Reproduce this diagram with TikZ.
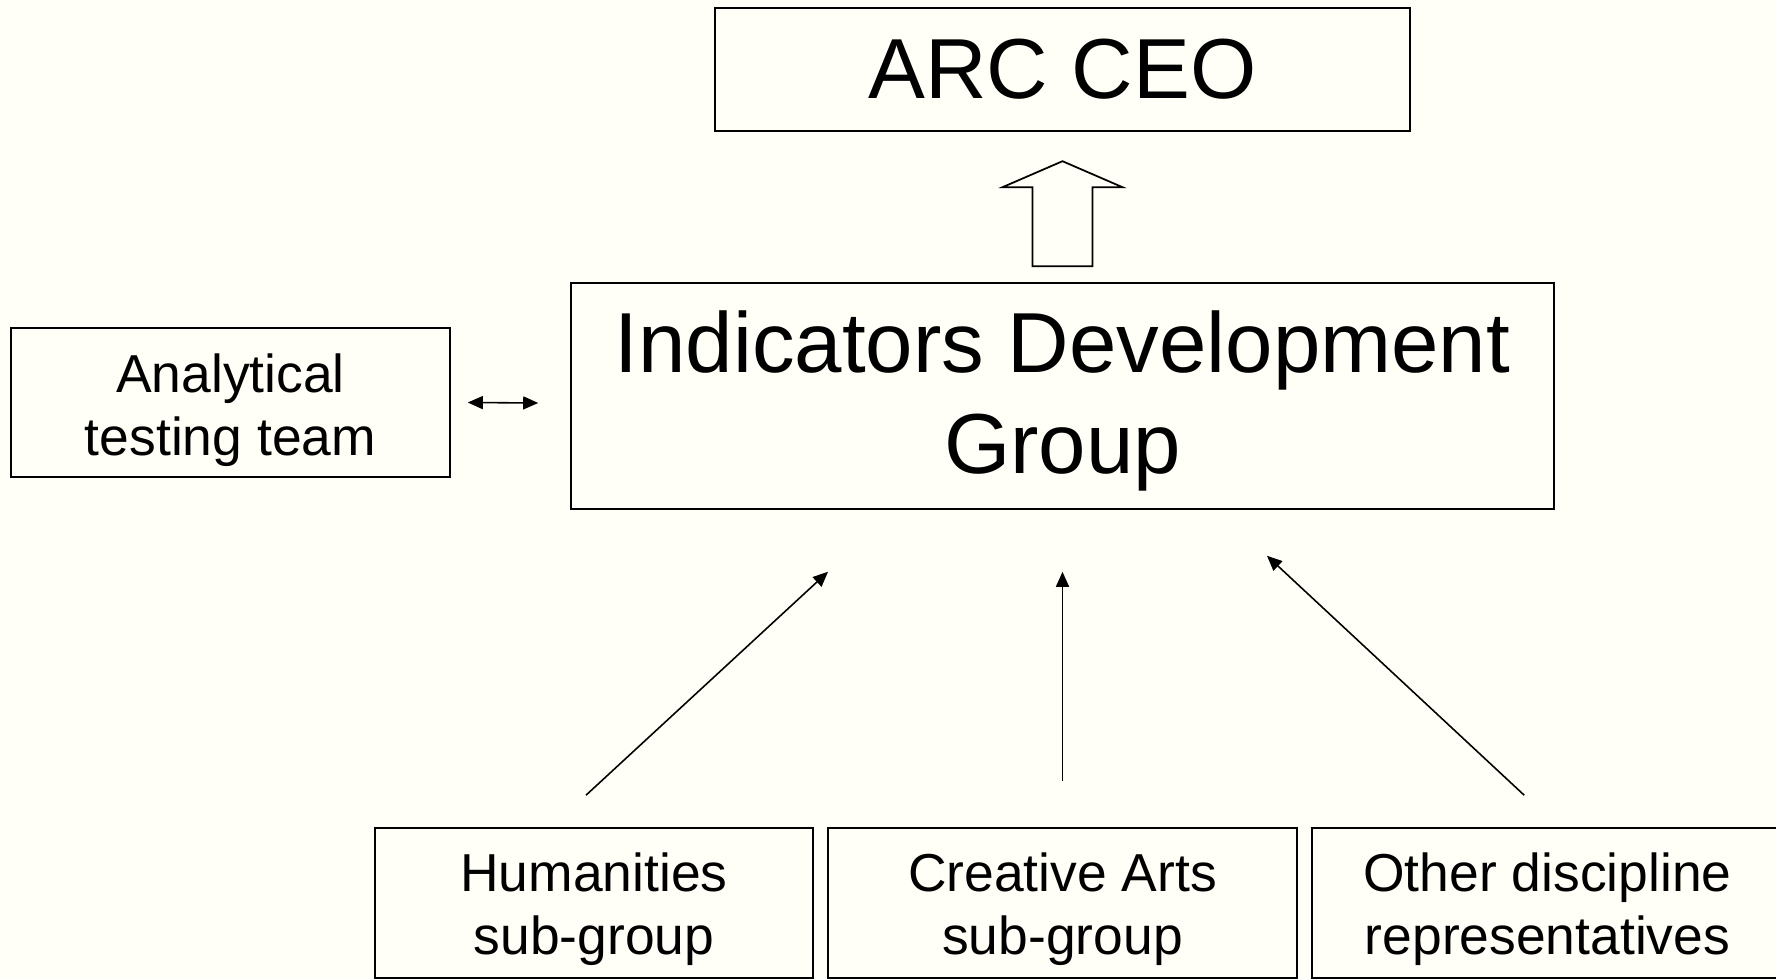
\documentclass[tikz,border=0pt]{standalone}
\usepackage{fontspec}
\setmainfont{Liberation Sans}
\usetikzlibrary{arrows.meta}

\definecolor{paper}{RGB}{255,255,247}

\tikzset{
    box/.style={draw, line width=0.9pt, inner sep=0pt},
    big/.style={align=center, inner sep=0pt, font=\fontsize{48.5}{57.2}\selectfont},
    small/.style={align=center, inner sep=0pt, font=\fontsize{30.4}{35.9}\selectfont},
    feed/.style={line width=0.9pt, -{Triangle[length=0.3cm,width=0.26cm]}},
    fat/.style={draw, line width=1pt, fill=paper}
}

\begin{document}
\begin{tikzpicture}

    % page
    \fill[paper] (0,0) rectangle (35.52,-19.58);
    \useasboundingbox (0,0) rectangle (35.52,-19.58);

    % top level
    \node[box,minimum width=13.9cm,minimum height=2.46cm] (ceo) at (21.25,-1.39) {};
    \node[big] (ceotext) at (ceo) {ARC CEO};

    % main group
    \node[box,minimum width=19.66cm,minimum height=4.52cm] (idg) at (21.25,-7.92) {};
    \node[big] (idgtext) at ([yshift=-0.1cm]idg.center) {Indicators Development\\Group};

    % testing team
    \node[box,minimum width=8.78cm,minimum height=2.98cm] (ana) at (4.61,-8.05) {};
    \node[small] (anatext) at ([yshift=-0.15cm]ana.center) {Analytical\\testing team};

    % sub-groups
    \node[box,minimum width=8.76cm,minimum height=3.0cm] (hum) at (11.88,-18.06) {};
    \node[box,minimum width=9.38cm,minimum height=3.0cm] (cre) at (21.25,-18.06) {};
    \node[box,minimum width=9.42cm,minimum height=3.0cm] (oth) at (30.95,-18.06) {};
    \node[small] (humtext) at ([yshift=-0.12cm]hum.center) {Humanities\\sub-group};
    \node[small] (cretext) at ([yshift=-0.12cm]cre.center) {Creative Arts\\sub-group};
    \node[small] (othtext) at ([yshift=-0.12cm]oth.center) {Other discipline\\representatives};

    %%%%%%%%%%%%%%%%%%%%%%%%%%%%%%%%%%%%%%%%%%%%%%%%%%%%%%%%%

    % group reports up
    \draw[fat] ([shift={(-0.6,0.32)}]idg.north) -- ++(0,1.58) -- ++(-0.6,0)
        -- ++(1.2,0.52) -- ++(1.2,-0.52) -- ++(-0.6,0) -- ++(0,-1.58) -- cycle;

    % two-way link with testing team
    \draw[line width=0.9pt,{Triangle[length=0.3cm,width=0.26cm]}-{Triangle[length=0.3cm,width=0.26cm]}]
        ([xshift=0.34cm]ana.east) -- ([xshift=-0.64cm,yshift=-0.14cm]idg.west);

    % sub-groups feed in
    \draw[feed] ([shift={(-0.16,0.64)}]hum.north) -- ([shift={(-4.69,-1.24)}]idg.south);
    \draw[feed] ([yshift=0.92cm]cre.north) -- ([yshift=-1.24cm]idg.south);
    \draw[feed] ([shift={(4.26,0.64)}]oth.north west) -- ([shift={(4.09,-0.92)}]idg.south);

\end{tikzpicture}
\end{document}
